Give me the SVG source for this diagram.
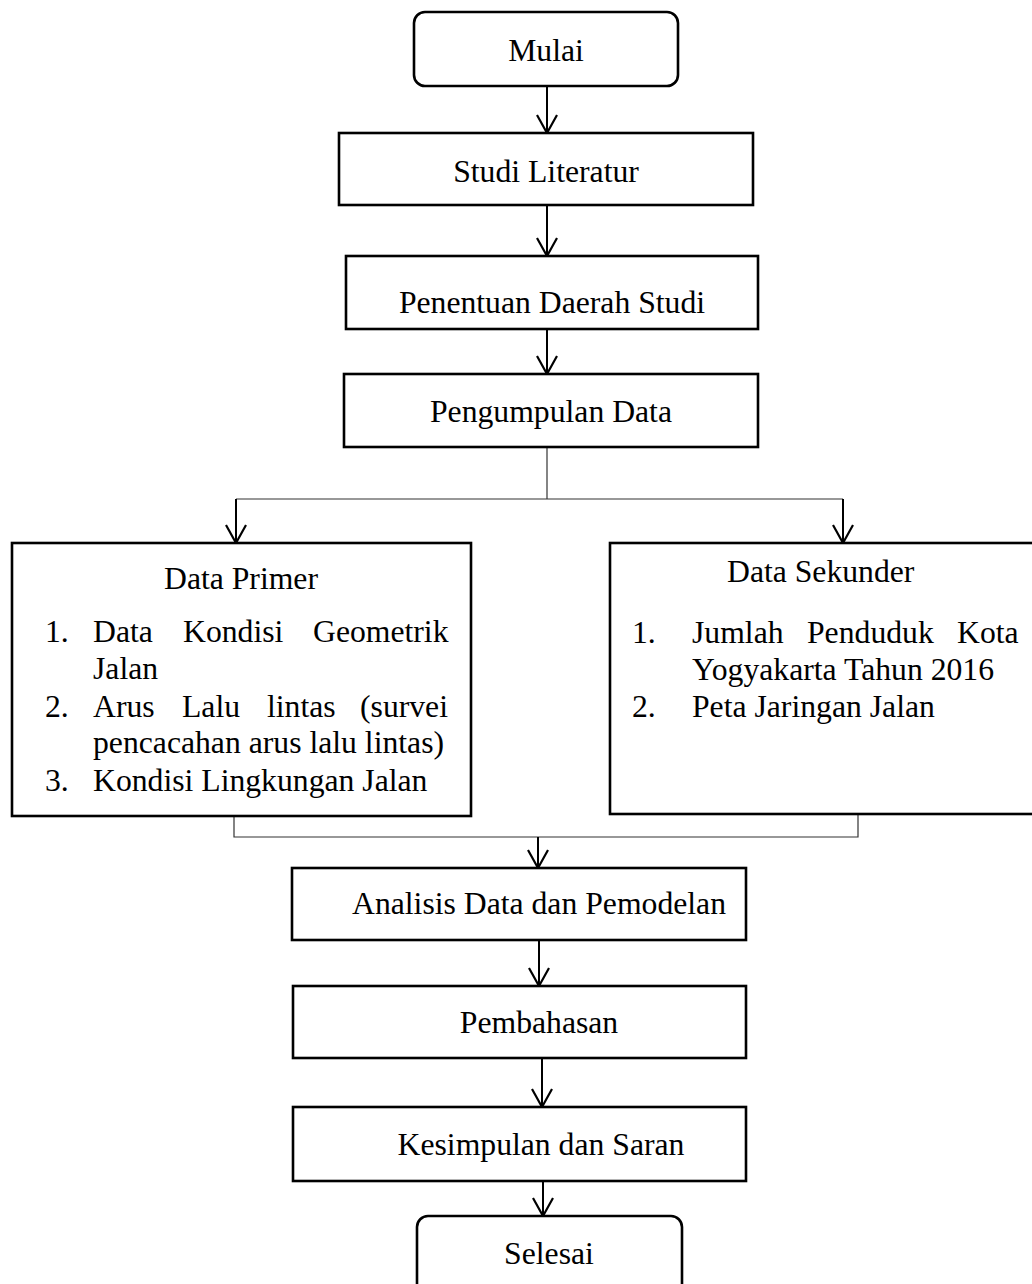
<svg xmlns="http://www.w3.org/2000/svg" width="1032" height="1284" viewBox="0 0 1032 1284">
<style>
.box{fill:#fff;stroke:#000;stroke-width:2.6}
.t{font-family:"Liberation Serif","Times New Roman",serif;font-size:31.7px;fill:#000}
.c{text-anchor:middle}
.thin{fill:none;stroke:#333;stroke-width:1.2}
.arr{fill:none;stroke:#000;stroke-width:2;marker-end:url(#ah)}
</style>
<defs>
<marker id="ah" markerUnits="userSpaceOnUse" viewBox="-20 -12 22 24" markerWidth="22" markerHeight="24" refX="0" refY="0" orient="auto">
<path d="M-18,-10 L0,0 L-18,10" fill="none" stroke="#000" stroke-width="2.2"/>
</marker>
</defs>
<rect width="1032" height="1284" fill="#fff"/>
<g id="connectors">
<line class="arr" x1="547" y1="86" x2="547" y2="133"/>
<line class="arr" x1="547" y1="205" x2="547" y2="256"/>
<line class="arr" x1="547" y1="329" x2="547" y2="374"/>
<polyline class="thin" points="547,447 547,499"/>
<polyline class="thin" points="236,499 843,499"/>
<line class="arr" x1="236" y1="499" x2="236" y2="543"/>
<line class="arr" x1="843" y1="499" x2="843" y2="543"/>
<polyline class="thin" points="234,816 234,837 858,837 858,814"/>
<line class="arr" x1="538" y1="837" x2="538" y2="868"/>
<line class="arr" x1="539" y1="940" x2="539" y2="986"/>
<line class="arr" x1="542" y1="1058" x2="542" y2="1107"/>
<line class="arr" x1="543" y1="1181" x2="543" y2="1216"/>
</g>
<g id="mulai">
<rect class="box" x="414" y="12" width="264" height="74" rx="11"/>
<text class="t c" x="546" y="61">Mulai</text>
</g>
<g id="studi-literatur">
<rect class="box" x="339" y="133" width="414" height="72"/>
<text class="t c" x="546" y="182">Studi Literatur</text>
</g>
<g id="penentuan">
<rect class="box" x="346" y="256" width="412" height="73"/>
<text class="t c" x="552" y="313">Penentuan Daerah Studi</text>
</g>
<g id="pengumpulan">
<rect class="box" x="344" y="374" width="414" height="73"/>
<text class="t c" x="551" y="422">Pengumpulan Data</text>
</g>
<g id="data-primer">
<rect class="box" x="12" y="543" width="459" height="273"/>
<text class="t c" x="241" y="589">Data Primer</text>
<text class="t" y="642"><tspan x="45">1.</tspan><tspan x="93">Data</tspan><tspan x="183">Kondisi</tspan><tspan x="313">Geometrik</tspan></text>
<text class="t" x="93" y="679">Jalan</text>
<text class="t" y="717"><tspan x="45">2.</tspan><tspan x="93">Arus</tspan><tspan x="182">Lalu</tspan><tspan x="267">lintas</tspan><tspan x="360">(survei</tspan></text>
<text class="t" x="93" y="753">pencacahan arus lalu lintas)</text>
<text class="t" y="791"><tspan x="45">3.</tspan><tspan x="93">Kondisi Lingkungan Jalan</tspan></text>
</g>
<g id="data-sekunder">
<rect class="box" x="610" y="543" width="430" height="271"/>
<text class="t" x="727" y="582">Data  Sekunder</text>
<text class="t" y="643"><tspan x="632">1.</tspan><tspan x="692">Jumlah</tspan><tspan x="807">Penduduk</tspan><tspan x="957">Kota</tspan></text>
<text class="t" x="692" y="680">Yogyakarta Tahun 2016</text>
<text class="t" y="717"><tspan x="632">2.</tspan><tspan x="692">Peta Jaringan Jalan</tspan></text>
</g>
<g id="analisis">
<rect class="box" x="292" y="868" width="454" height="72"/>
<text class="t c" x="539" y="914">Analisis Data dan Pemodelan</text>
</g>
<g id="pembahasan">
<rect class="box" x="293" y="986" width="453" height="72"/>
<text class="t c" x="539" y="1033">Pembahasan</text>
</g>
<g id="kesimpulan">
<rect class="box" x="293" y="1107" width="453" height="74"/>
<text class="t c" x="541" y="1155">Kesimpulan dan Saran</text>
</g>
<g id="selesai">
<rect class="box" x="417" y="1216" width="265" height="80" rx="11"/>
<text class="t c" x="549" y="1264">Selesai</text>
</g>
</svg>
